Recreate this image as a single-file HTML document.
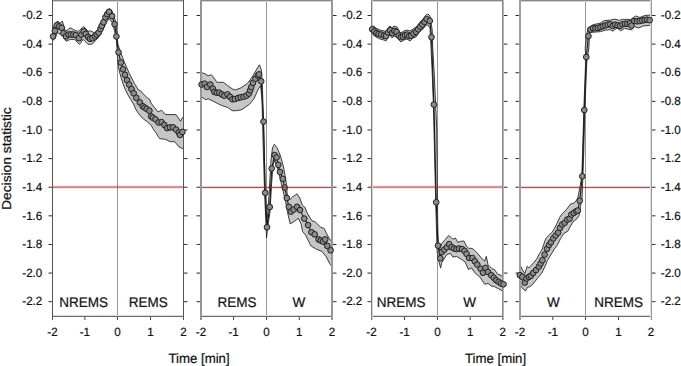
<!DOCTYPE html>
<html><head><meta charset="utf-8"><style>
html,body{margin:0;padding:0;background:#fff;width:681px;height:366px;overflow:hidden}
svg{display:block}
text{font-family:"Liberation Sans",sans-serif;fill:#111;stroke:#111;stroke-width:0.22px;text-rendering:geometricPrecision}
.tl{font-size:12px}
.cl{font-size:14px}
.at{font-size:13.5px}
.c{fill:#8a8a8a;stroke:#1e1e1e;stroke-width:1}
.bd{fill:#c6c6c6;stroke:#1e1e1e;stroke-width:0.85;stroke-linejoin:round}
</style></head><body>
<svg width="681" height="366" viewBox="0 0 681 366">
<rect width="681" height="366" fill="#fff"/>
<rect x="52" y="0" width="132" height="1" fill="#888"/>
<rect x="52" y="1" width="132" height="1" fill="#d2d2d2"/>
<rect x="52" y="315" width="132" height="1" fill="#dcdcdc"/>
<rect x="52" y="316" width="132" height="1" fill="#6a6a6a"/>
<rect x="52" y="0" width="1" height="320" fill="#555"/>
<rect x="183" y="0" width="1" height="320" fill="#555"/>
<path d="M48.5 15.50H52.0M184.0 15.50H187.5M48.5 44.12H52.0M184.0 44.12H187.5M48.5 72.74H52.0M184.0 72.74H187.5M48.5 101.36H52.0M184.0 101.36H187.5M48.5 129.98H52.0M184.0 129.98H187.5M48.5 158.60H52.0M184.0 158.60H187.5M48.5 187.22H52.0M184.0 187.22H187.5M48.5 215.84H52.0M184.0 215.84H187.5M48.5 244.46H52.0M184.0 244.46H187.5M48.5 273.08H52.0M184.0 273.08H187.5M48.5 301.70H52.0M184.0 301.70H187.5" stroke="#2a2a2a" stroke-width="1" fill="none"/>
<path d="M84.90 317V320M117.50 317V320M150.50 317V320" stroke="#444" stroke-width="1" fill="none"/>
<rect x="117" y="2" width="1" height="313" fill="#959595"/>
<clipPath id="c0"><rect x="53" y="1" width="130" height="314"/></clipPath>
<polygon class="bd" clip-path="url(#c0)" points="52.5,30.0 54.5,25.0 56.2,22.2 58.0,21.0 60.0,23.5 62.3,21.0 65.4,31.4 70.3,27.8 74.6,30.2 78.3,31.4 83.8,26.5 88.1,31.4 90.6,30.8 94.3,32.7 99.2,29.6 102.9,21.0 106.6,12.4 109.0,8.7 111.5,9.9 114.0,16.1 116.4,24.7 117.8,44.0 120.7,52.5 124.4,62.3 129.3,73.3 134.2,83.2 138.5,89.9 141.0,91.2 143.4,94.2 147.6,97.9 150.0,99.8 151.1,103.2 154.6,107.6 158.1,112.0 161.6,110.2 164.2,113.3 166.0,114.6 170.1,114.6 176.1,114.6 180.6,121.3 182.4,117.6 183.5,117.0 183.5,149.0 182.1,148.4 179.1,146.9 174.6,141.7 170.1,141.7 165.6,139.4 159.6,138.6 155.8,132.6 152.9,128.6 151.1,125.1 147.6,122.1 142.4,118.1 138.0,112.9 135.7,109.0 133.5,104.0 131.0,100.0 128.0,95.0 125.5,90.0 123.5,85.0 121.5,79.0 119.5,72.0 118.3,66.0 117.6,58.0 116.4,40.7 114.6,30.8 112.1,22.2 109.0,18.5 106.6,22.2 102.9,29.6 99.2,36.4 95.5,40.7 92.4,44.0 88.1,44.4 83.2,39.4 79.5,44.4 74.6,39.4 70.3,39.4 66.0,41.3 62.3,35.1 57.4,32.7 54.9,38.2 52.5,41.0"/>
<polyline points="53.1,36.4 54.9,30.8 56.8,25.3 59.2,26.5 61.7,27.8 63.5,33.3 66.0,36.4 68.5,34.5 70.9,34.5 73.4,34.5 75.8,35.1 78.9,38.2 81.4,34.5 83.8,31.4 85.7,33.9 88.1,37.0 90.0,38.8 92.4,38.2 94.9,36.4 96.7,34.5 98.6,32.7 100.4,29.0 101.7,25.9 103.5,22.2 105.4,17.3 107.2,14.2 109.0,11.8 112.1,16.1 114.6,24.1 116.4,36.4 118.5,52.4 120.9,62.5 123.0,69.3 125.0,74.8 127.0,80.1 129.2,84.6 131.5,89.0 133.7,93.3 136.3,97.8 139.8,102.4 142.8,106.3 144.6,107.6 146.7,108.9 149.4,110.7 151.1,116.4 152.9,117.7 155.5,119.4 158.6,122.5 161.6,122.1 164.4,125.0 167.1,128.1 170.1,127.4 173.1,127.4 176.1,129.6 178.8,132.6 179.9,134.9 182.4,131.9" fill="none" stroke="#1a1a1a" stroke-width="1.1"/>
<circle class="c" cx="53.1" cy="36.4" r="2.85"/>
<circle class="c" cx="54.9" cy="30.8" r="2.85"/>
<circle class="c" cx="56.8" cy="25.3" r="2.85"/>
<circle class="c" cx="59.2" cy="26.5" r="2.85"/>
<circle class="c" cx="61.7" cy="27.8" r="2.85"/>
<circle class="c" cx="63.5" cy="33.3" r="2.85"/>
<circle class="c" cx="66.0" cy="36.4" r="2.85"/>
<circle class="c" cx="68.5" cy="34.5" r="2.85"/>
<circle class="c" cx="70.9" cy="34.5" r="2.85"/>
<circle class="c" cx="73.4" cy="34.5" r="2.85"/>
<circle class="c" cx="75.8" cy="35.1" r="2.85"/>
<circle class="c" cx="78.9" cy="38.2" r="2.85"/>
<circle class="c" cx="81.4" cy="34.5" r="2.85"/>
<circle class="c" cx="83.8" cy="31.4" r="2.85"/>
<circle class="c" cx="85.7" cy="33.9" r="2.85"/>
<circle class="c" cx="88.1" cy="37.0" r="2.85"/>
<circle class="c" cx="90.0" cy="38.8" r="2.85"/>
<circle class="c" cx="92.4" cy="38.2" r="2.85"/>
<circle class="c" cx="94.9" cy="36.4" r="2.85"/>
<circle class="c" cx="96.7" cy="34.5" r="2.85"/>
<circle class="c" cx="98.6" cy="32.7" r="2.85"/>
<circle class="c" cx="100.4" cy="29.0" r="2.85"/>
<circle class="c" cx="101.7" cy="25.9" r="2.85"/>
<circle class="c" cx="103.5" cy="22.2" r="2.85"/>
<circle class="c" cx="105.4" cy="17.3" r="2.85"/>
<circle class="c" cx="107.2" cy="14.2" r="2.85"/>
<circle class="c" cx="109.0" cy="11.8" r="2.85"/>
<circle class="c" cx="112.1" cy="16.1" r="2.85"/>
<circle class="c" cx="114.6" cy="24.1" r="2.85"/>
<circle class="c" cx="116.4" cy="36.4" r="2.85"/>
<circle class="c" cx="118.5" cy="52.4" r="2.85"/>
<circle class="c" cx="120.9" cy="62.5" r="2.85"/>
<circle class="c" cx="123.0" cy="69.3" r="2.85"/>
<circle class="c" cx="125.0" cy="74.8" r="2.85"/>
<circle class="c" cx="127.0" cy="80.1" r="2.85"/>
<circle class="c" cx="129.2" cy="84.6" r="2.85"/>
<circle class="c" cx="131.5" cy="89.0" r="2.85"/>
<circle class="c" cx="133.7" cy="93.3" r="2.85"/>
<circle class="c" cx="136.3" cy="97.8" r="2.85"/>
<circle class="c" cx="139.8" cy="102.4" r="2.85"/>
<circle class="c" cx="142.8" cy="106.3" r="2.85"/>
<circle class="c" cx="144.6" cy="107.6" r="2.85"/>
<circle class="c" cx="146.7" cy="108.9" r="2.85"/>
<circle class="c" cx="149.4" cy="110.7" r="2.85"/>
<circle class="c" cx="151.1" cy="116.4" r="2.85"/>
<circle class="c" cx="152.9" cy="117.7" r="2.85"/>
<circle class="c" cx="155.5" cy="119.4" r="2.85"/>
<circle class="c" cx="158.6" cy="122.5" r="2.85"/>
<circle class="c" cx="161.6" cy="122.1" r="2.85"/>
<circle class="c" cx="164.4" cy="125.0" r="2.85"/>
<circle class="c" cx="167.1" cy="128.1" r="2.85"/>
<circle class="c" cx="170.1" cy="127.4" r="2.85"/>
<circle class="c" cx="173.1" cy="127.4" r="2.85"/>
<circle class="c" cx="176.1" cy="129.6" r="2.85"/>
<circle class="c" cx="178.8" cy="132.6" r="2.85"/>
<circle class="c" cx="179.9" cy="134.9" r="2.85"/>
<circle class="c" cx="182.4" cy="131.9" r="2.85"/>
<rect x="53" y="185" width="130" height="1" fill="#be1e23" fill-opacity="0.070"/>
<rect x="53" y="186" width="130" height="1" fill="#be1e23" fill-opacity="0.450"/>
<rect x="53" y="187" width="130" height="1" fill="#be1e23" fill-opacity="0.565"/>
<rect x="53" y="188" width="130" height="1" fill="#be1e23" fill-opacity="0.100"/>
<text class="tl" transform="translate(52.5,336.3) scale(0.967,1)" text-anchor="middle">-2</text>
<text class="tl" transform="translate(84.9,336.3) scale(0.967,1)" text-anchor="middle">-1</text>
<text class="tl" transform="translate(117.5,336.3) scale(0.967,1)" text-anchor="middle">0</text>
<text class="tl" transform="translate(150.5,336.3) scale(0.967,1)" text-anchor="middle">1</text>
<text class="tl" transform="translate(183.5,336.3) scale(0.967,1)" text-anchor="middle">2</text>
<text class="cl" transform="translate(83.7,307.4) scale(0.965,1)" text-anchor="middle">NREMS</text>
<text class="cl" transform="translate(148.2,307.4) scale(0.965,1)" text-anchor="middle">REMS</text>
<rect x="200" y="0" width="133" height="1" fill="#888"/>
<rect x="200" y="1" width="133" height="1" fill="#d2d2d2"/>
<rect x="200" y="315" width="133" height="1" fill="#dcdcdc"/>
<rect x="200" y="316" width="133" height="1" fill="#6a6a6a"/>
<rect x="200" y="0" width="1" height="320" fill="#959595"/>
<rect x="201" y="0" width="1" height="320" fill="#959595"/>
<rect x="331" y="0" width="1" height="320" fill="#969696"/>
<rect x="332" y="0" width="1" height="320" fill="#969696"/>
<path d="M196.5 15.50H200.0M333.0 15.50H336.5M196.5 44.12H200.0M333.0 44.12H336.5M196.5 72.74H200.0M333.0 72.74H336.5M196.5 101.36H200.0M333.0 101.36H336.5M196.5 129.98H200.0M333.0 129.98H336.5M196.5 158.60H200.0M333.0 158.60H336.5M196.5 187.22H200.0M333.0 187.22H336.5M196.5 215.84H200.0M333.0 215.84H336.5M196.5 244.46H200.0M333.0 244.46H336.5M196.5 273.08H200.0M333.0 273.08H336.5M196.5 301.70H200.0M333.0 301.70H336.5" stroke="#2a2a2a" stroke-width="1" fill="none"/>
<path d="M233.60 317V320M266.50 317V320M299.30 317V320" stroke="#444" stroke-width="1" fill="none"/>
<rect x="266" y="2" width="1" height="313" fill="#959595"/>
<clipPath id="c1"><rect x="202" y="1" width="129" height="314"/></clipPath>
<polygon class="bd" clip-path="url(#c1)" points="201.0,72.5 204.8,73.6 208.1,75.8 211.4,74.7 214.7,79.0 216.9,82.3 223.4,82.3 227.8,85.6 232.2,88.9 235.4,90.0 240.9,87.8 247.5,83.4 252.9,75.8 257.3,68.1 259.5,64.8 261.3,70.0 262.2,80.0 263.5,120.0 265.0,180.0 266.0,215.0 267.0,222.0 269.0,195.0 271.0,160.0 272.5,148.0 274.3,144.3 277.0,147.5 280.5,156.0 283.5,167.0 285.5,178.0 286.5,186.0 287.5,196.6 290.2,199.3 293.0,196.6 297.0,193.9 299.8,198.0 302.5,205.5 305.2,207.5 306.6,212.0 312.0,220.8 315.3,221.9 320.8,227.3 324.1,228.4 327.3,235.0 330.6,240.5 332.1,241.6 332.1,266.7 329.5,263.4 326.3,256.9 321.9,251.4 316.4,249.2 310.9,245.9 305.5,235.0 302.5,231.4 301.1,223.9 298.4,218.4 293.6,221.8 290.2,223.9 287.5,212.3 285.5,201.4 281.0,182.0 278.0,170.0 275.0,160.0 273.0,165.0 271.5,185.0 270.0,212.0 268.0,225.0 266.5,238.0 264.5,190.0 263.0,140.0 262.0,100.0 260.6,85.6 258.4,88.9 254.0,98.7 249.6,104.2 242.0,109.6 236.5,110.7 232.2,110.7 227.8,107.5 221.2,105.3 214.7,102.0 208.1,98.7 205.9,99.8 201.0,96.5"/>
<polyline points="201.6,84.5 204.6,83.7 207.0,87.0 210.3,84.5 212.8,88.6 214.4,91.9 216.9,92.7 219.3,92.7 221.8,94.4 224.3,95.7 227.5,94.4 230.0,96.8 232.5,99.3 234.9,99.0 238.2,98.0 240.7,97.3 243.6,96.8 246.4,95.7 248.9,93.6 250.2,90.3 251.3,87.0 253.0,82.9 255.4,78.8 257.9,75.5 259.0,74.4 261.2,81.3 263.5,121.6 265.2,192.8 267.0,227.2 269.7,207.0 271.7,168.5 274.6,155.0 276.6,157.4 278.3,164.8 280.0,172.0 282.8,178.8 284.7,187.5 286.8,198.0 288.9,206.8 290.9,211.6 293.6,209.6 297.0,206.8 300.0,210.0 304.3,218.6 308.1,225.1 311.4,232.2 314.7,234.4 318.6,239.4 320.8,240.5 323.0,241.6 325.2,239.4 327.3,245.9 330.6,250.3" fill="none" stroke="#1a1a1a" stroke-width="1.1"/>
<circle class="c" cx="201.6" cy="84.5" r="2.85"/>
<circle class="c" cx="204.6" cy="83.7" r="2.85"/>
<circle class="c" cx="207.0" cy="87.0" r="2.85"/>
<circle class="c" cx="210.3" cy="84.5" r="2.85"/>
<circle class="c" cx="212.8" cy="88.6" r="2.85"/>
<circle class="c" cx="214.4" cy="91.9" r="2.85"/>
<circle class="c" cx="216.9" cy="92.7" r="2.85"/>
<circle class="c" cx="219.3" cy="92.7" r="2.85"/>
<circle class="c" cx="221.8" cy="94.4" r="2.85"/>
<circle class="c" cx="224.3" cy="95.7" r="2.85"/>
<circle class="c" cx="227.5" cy="94.4" r="2.85"/>
<circle class="c" cx="230.0" cy="96.8" r="2.85"/>
<circle class="c" cx="232.5" cy="99.3" r="2.85"/>
<circle class="c" cx="234.9" cy="99.0" r="2.85"/>
<circle class="c" cx="238.2" cy="98.0" r="2.85"/>
<circle class="c" cx="240.7" cy="97.3" r="2.85"/>
<circle class="c" cx="243.6" cy="96.8" r="2.85"/>
<circle class="c" cx="246.4" cy="95.7" r="2.85"/>
<circle class="c" cx="248.9" cy="93.6" r="2.85"/>
<circle class="c" cx="250.2" cy="90.3" r="2.85"/>
<circle class="c" cx="251.3" cy="87.0" r="2.85"/>
<circle class="c" cx="253.0" cy="82.9" r="2.85"/>
<circle class="c" cx="255.4" cy="78.8" r="2.85"/>
<circle class="c" cx="257.9" cy="75.5" r="2.85"/>
<circle class="c" cx="259.0" cy="74.4" r="2.85"/>
<circle class="c" cx="261.2" cy="81.3" r="2.85"/>
<circle class="c" cx="263.5" cy="121.6" r="2.85"/>
<circle class="c" cx="265.2" cy="192.8" r="2.85"/>
<circle class="c" cx="267.0" cy="227.2" r="2.85"/>
<circle class="c" cx="269.7" cy="207.0" r="2.85"/>
<circle class="c" cx="271.7" cy="168.5" r="2.85"/>
<circle class="c" cx="274.6" cy="155.0" r="2.85"/>
<circle class="c" cx="276.6" cy="157.4" r="2.85"/>
<circle class="c" cx="278.3" cy="164.8" r="2.85"/>
<circle class="c" cx="280.0" cy="172.0" r="2.85"/>
<circle class="c" cx="282.8" cy="178.8" r="2.85"/>
<circle class="c" cx="284.7" cy="187.5" r="2.85"/>
<circle class="c" cx="286.8" cy="198.0" r="2.85"/>
<circle class="c" cx="288.9" cy="206.8" r="2.85"/>
<circle class="c" cx="290.9" cy="211.6" r="2.85"/>
<circle class="c" cx="293.6" cy="209.6" r="2.85"/>
<circle class="c" cx="297.0" cy="206.8" r="2.85"/>
<circle class="c" cx="300.0" cy="210.0" r="2.85"/>
<circle class="c" cx="304.3" cy="218.6" r="2.85"/>
<circle class="c" cx="308.1" cy="225.1" r="2.85"/>
<circle class="c" cx="311.4" cy="232.2" r="2.85"/>
<circle class="c" cx="314.7" cy="234.4" r="2.85"/>
<circle class="c" cx="318.6" cy="239.4" r="2.85"/>
<circle class="c" cx="320.8" cy="240.5" r="2.85"/>
<circle class="c" cx="323.0" cy="241.6" r="2.85"/>
<circle class="c" cx="325.2" cy="239.4" r="2.85"/>
<circle class="c" cx="327.3" cy="245.9" r="2.85"/>
<circle class="c" cx="330.6" cy="250.3" r="2.85"/>
<rect x="202" y="186" width="129" height="1" fill="#961e23" fill-opacity="0.200"/>
<rect x="202" y="187" width="129" height="1" fill="#961e23" fill-opacity="0.780"/>
<rect x="202" y="188" width="129" height="1" fill="#961e23" fill-opacity="0.110"/>
<text class="tl" transform="translate(201.0,336.3) scale(0.967,1)" text-anchor="middle">-2</text>
<text class="tl" transform="translate(233.6,336.3) scale(0.967,1)" text-anchor="middle">-1</text>
<text class="tl" transform="translate(266.5,336.3) scale(0.967,1)" text-anchor="middle">0</text>
<text class="tl" transform="translate(299.3,336.3) scale(0.967,1)" text-anchor="middle">1</text>
<text class="tl" transform="translate(332.0,336.3) scale(0.967,1)" text-anchor="middle">2</text>
<text class="cl" transform="translate(237.0,307.4) scale(0.965,1)" text-anchor="middle">REMS</text>
<text class="cl" transform="translate(298.9,307.4) scale(0.965,1)" text-anchor="middle">W</text>
<rect x="371" y="0" width="133" height="1" fill="#888"/>
<rect x="371" y="1" width="133" height="1" fill="#d2d2d2"/>
<rect x="371" y="315" width="133" height="1" fill="#dcdcdc"/>
<rect x="371" y="316" width="133" height="1" fill="#6a6a6a"/>
<rect x="371" y="0" width="1" height="320" fill="#808080"/>
<rect x="372" y="0" width="1" height="320" fill="#d0d0d0"/>
<rect x="502" y="0" width="1" height="320" fill="#8a8a8a"/>
<rect x="503" y="0" width="1" height="320" fill="#b5b5b5"/>
<path d="M367.5 15.50H371.0M504.0 15.50H507.5M367.5 44.12H371.0M504.0 44.12H507.5M367.5 72.74H371.0M504.0 72.74H507.5M367.5 101.36H371.0M504.0 101.36H507.5M367.5 129.98H371.0M504.0 129.98H507.5M367.5 158.60H371.0M504.0 158.60H507.5M367.5 187.22H371.0M504.0 187.22H507.5M367.5 215.84H371.0M504.0 215.84H507.5M367.5 244.46H371.0M504.0 244.46H507.5M367.5 273.08H371.0M504.0 273.08H507.5M367.5 301.70H371.0M504.0 301.70H507.5" stroke="#2a2a2a" stroke-width="1" fill="none"/>
<path d="M404.60 317V320M437.50 317V320M470.20 317V320" stroke="#444" stroke-width="1" fill="none"/>
<rect x="437" y="2" width="1" height="313" fill="#959595"/>
<clipPath id="c2"><rect x="373" y="1" width="129" height="314"/></clipPath>
<polygon class="bd" clip-path="url(#c2)" points="372.0,25.0 376.0,28.0 380.0,30.0 384.0,31.0 386.0,32.0 388.0,28.0 390.0,26.0 392.0,28.0 394.0,26.0 397.0,27.0 399.0,31.0 401.0,33.0 404.0,31.0 407.0,30.0 410.0,31.0 413.0,29.0 416.0,27.0 418.0,25.0 420.0,22.0 423.0,19.0 426.0,15.0 428.0,14.0 430.0,16.0 432.2,30.0 432.6,45.0 434.3,75.0 435.6,104.0 436.8,130.0 437.2,160.0 437.4,200.0 437.9,232.0 438.4,244.0 439.4,249.7 441.8,243.5 445.5,239.2 448.6,235.5 451.1,237.4 452.9,239.2 455.4,238.0 457.8,242.3 461.5,241.1 464.0,241.1 466.4,246.0 468.9,248.5 470.7,248.2 473.2,249.0 477.3,253.1 481.4,258.0 484.7,261.3 486.3,256.4 488.0,264.6 492.0,268.7 494.5,269.5 497.8,274.4 501.0,275.2 503.0,277.5 503.0,292.0 501.0,290.0 497.8,288.4 494.5,286.7 491.2,285.9 488.0,283.4 484.7,284.3 479.8,276.9 474.8,272.8 471.6,267.9 468.3,269.4 465.2,262.0 461.5,259.5 456.6,256.4 452.9,257.1 450.5,253.4 446.8,254.6 441.8,262.6 440.6,268.1 438.8,260.8 437.2,252.0 436.9,245.0 435.7,202.0 434.5,150.0 433.4,104.6 432.3,75.0 430.9,45.0 430.0,28.0 428.0,25.0 426.0,25.0 423.0,29.0 420.0,31.0 418.0,34.0 416.0,37.0 413.0,38.0 410.0,41.0 407.0,39.0 404.0,40.0 401.0,42.0 399.0,40.0 397.0,37.0 394.0,36.0 392.0,38.0 390.0,35.0 388.0,37.0 386.0,41.0 384.0,40.0 380.0,39.0 376.0,37.0 372.0,34.0"/>
<polyline points="372.2,29.3 374.3,31.4 376.5,33.0 378.6,34.0 381.2,34.6 383.9,35.6 386.0,36.1 388.1,32.4 390.2,30.3 392.3,33.0 394.4,30.9 396.5,31.9 398.7,35.6 400.8,37.2 402.9,36.7 405.0,35.1 407.1,34.6 409.2,36.1 411.3,35.6 413.5,33.5 416.1,31.9 418.2,29.3 420.3,26.6 422.4,24.5 424.6,21.9 426.7,19.2 429.8,20.8 431.5,37.2 433.9,104.6 436.2,202.3 438.0,245.6 440.3,258.3 441.8,252.1 444.3,249.7 446.8,247.2 449.2,244.1 451.7,247.2 454.1,248.5 456.6,249.1 459.1,248.5 462.1,249.1 464.6,250.9 466.6,253.9 469.1,258.0 472.4,258.0 474.8,261.3 477.3,264.6 480.6,268.7 483.0,272.8 485.5,267.9 488.0,272.0 491.2,275.2 493.7,277.7 496.1,280.2 498.6,281.8 501.0,283.4 503.5,284.3" fill="none" stroke="#1a1a1a" stroke-width="1.1"/>
<circle class="c" cx="372.2" cy="29.3" r="2.85"/>
<circle class="c" cx="374.3" cy="31.4" r="2.85"/>
<circle class="c" cx="376.5" cy="33.0" r="2.85"/>
<circle class="c" cx="378.6" cy="34.0" r="2.85"/>
<circle class="c" cx="381.2" cy="34.6" r="2.85"/>
<circle class="c" cx="383.9" cy="35.6" r="2.85"/>
<circle class="c" cx="386.0" cy="36.1" r="2.85"/>
<circle class="c" cx="388.1" cy="32.4" r="2.85"/>
<circle class="c" cx="390.2" cy="30.3" r="2.85"/>
<circle class="c" cx="392.3" cy="33.0" r="2.85"/>
<circle class="c" cx="394.4" cy="30.9" r="2.85"/>
<circle class="c" cx="396.5" cy="31.9" r="2.85"/>
<circle class="c" cx="398.7" cy="35.6" r="2.85"/>
<circle class="c" cx="400.8" cy="37.2" r="2.85"/>
<circle class="c" cx="402.9" cy="36.7" r="2.85"/>
<circle class="c" cx="405.0" cy="35.1" r="2.85"/>
<circle class="c" cx="407.1" cy="34.6" r="2.85"/>
<circle class="c" cx="409.2" cy="36.1" r="2.85"/>
<circle class="c" cx="411.3" cy="35.6" r="2.85"/>
<circle class="c" cx="413.5" cy="33.5" r="2.85"/>
<circle class="c" cx="416.1" cy="31.9" r="2.85"/>
<circle class="c" cx="418.2" cy="29.3" r="2.85"/>
<circle class="c" cx="420.3" cy="26.6" r="2.85"/>
<circle class="c" cx="422.4" cy="24.5" r="2.85"/>
<circle class="c" cx="424.6" cy="21.9" r="2.85"/>
<circle class="c" cx="426.7" cy="19.2" r="2.85"/>
<circle class="c" cx="429.8" cy="20.8" r="2.85"/>
<circle class="c" cx="431.5" cy="37.2" r="2.85"/>
<circle class="c" cx="433.9" cy="104.6" r="2.85"/>
<circle class="c" cx="436.2" cy="202.3" r="2.85"/>
<circle class="c" cx="438.0" cy="245.6" r="2.85"/>
<circle class="c" cx="440.3" cy="258.3" r="2.85"/>
<circle class="c" cx="441.8" cy="252.1" r="2.85"/>
<circle class="c" cx="444.3" cy="249.7" r="2.85"/>
<circle class="c" cx="446.8" cy="247.2" r="2.85"/>
<circle class="c" cx="449.2" cy="244.1" r="2.85"/>
<circle class="c" cx="451.7" cy="247.2" r="2.85"/>
<circle class="c" cx="454.1" cy="248.5" r="2.85"/>
<circle class="c" cx="456.6" cy="249.1" r="2.85"/>
<circle class="c" cx="459.1" cy="248.5" r="2.85"/>
<circle class="c" cx="462.1" cy="249.1" r="2.85"/>
<circle class="c" cx="464.6" cy="250.9" r="2.85"/>
<circle class="c" cx="466.6" cy="253.9" r="2.85"/>
<circle class="c" cx="469.1" cy="258.0" r="2.85"/>
<circle class="c" cx="472.4" cy="258.0" r="2.85"/>
<circle class="c" cx="474.8" cy="261.3" r="2.85"/>
<circle class="c" cx="477.3" cy="264.6" r="2.85"/>
<circle class="c" cx="480.6" cy="268.7" r="2.85"/>
<circle class="c" cx="483.0" cy="272.8" r="2.85"/>
<circle class="c" cx="485.5" cy="267.9" r="2.85"/>
<circle class="c" cx="488.0" cy="272.0" r="2.85"/>
<circle class="c" cx="491.2" cy="275.2" r="2.85"/>
<circle class="c" cx="493.7" cy="277.7" r="2.85"/>
<circle class="c" cx="496.1" cy="280.2" r="2.85"/>
<circle class="c" cx="498.6" cy="281.8" r="2.85"/>
<circle class="c" cx="501.0" cy="283.4" r="2.85"/>
<circle class="c" cx="503.5" cy="284.3" r="2.85"/>
<rect x="373" y="185" width="129" height="1" fill="#be1e23" fill-opacity="0.070"/>
<rect x="373" y="186" width="129" height="1" fill="#be1e23" fill-opacity="0.450"/>
<rect x="373" y="187" width="129" height="1" fill="#be1e23" fill-opacity="0.565"/>
<rect x="373" y="188" width="129" height="1" fill="#be1e23" fill-opacity="0.100"/>
<text class="tl" transform="translate(371.5,336.3) scale(0.967,1)" text-anchor="middle">-2</text>
<text class="tl" transform="translate(404.6,336.3) scale(0.967,1)" text-anchor="middle">-1</text>
<text class="tl" transform="translate(437.5,336.3) scale(0.967,1)" text-anchor="middle">0</text>
<text class="tl" transform="translate(470.2,336.3) scale(0.967,1)" text-anchor="middle">1</text>
<text class="tl" transform="translate(502.8,336.3) scale(0.967,1)" text-anchor="middle">2</text>
<text class="cl" transform="translate(401.1,307.4) scale(0.965,1)" text-anchor="middle">NREMS</text>
<text class="cl" transform="translate(469.6,307.4) scale(0.965,1)" text-anchor="middle">W</text>
<rect x="519" y="0" width="133" height="1" fill="#888"/>
<rect x="519" y="1" width="133" height="1" fill="#d2d2d2"/>
<rect x="519" y="315" width="133" height="1" fill="#dcdcdc"/>
<rect x="519" y="316" width="133" height="1" fill="#6a6a6a"/>
<rect x="519" y="0" width="1" height="320" fill="#a0a0a0"/>
<rect x="520" y="0" width="1" height="320" fill="#a0a0a0"/>
<rect x="650" y="0" width="1" height="320" fill="#dedede"/>
<rect x="651" y="0" width="1" height="320" fill="#9a9a9a"/>
<path d="M515.5 15.50H519.0M652.0 15.50H655.5M515.5 44.12H519.0M652.0 44.12H655.5M515.5 72.74H519.0M652.0 72.74H655.5M515.5 101.36H519.0M652.0 101.36H655.5M515.5 129.98H519.0M652.0 129.98H655.5M515.5 158.60H519.0M652.0 158.60H655.5M515.5 187.22H519.0M652.0 187.22H655.5M515.5 215.84H519.0M652.0 215.84H655.5M515.5 244.46H519.0M652.0 244.46H655.5M515.5 273.08H519.0M652.0 273.08H655.5M515.5 301.70H519.0M652.0 301.70H655.5" stroke="#2a2a2a" stroke-width="1" fill="none"/>
<path d="M552.80 317V320M585.50 317V320M618.50 317V320" stroke="#444" stroke-width="1" fill="none"/>
<rect x="585" y="2" width="1" height="313" fill="#959595"/>
<clipPath id="c3"><rect x="521" y="1" width="129" height="314"/></clipPath>
<polygon class="bd" clip-path="url(#c3)" points="519.9,267.0 520.7,266.0 522.5,270.0 524.8,273.6 527.3,266.2 528.9,267.9 532.6,263.8 536.6,259.2 539.5,253.4 541.8,250.0 543.5,245.0 545.6,239.0 548.5,235.5 552.3,232.2 556.2,225.0 559.8,217.1 562.2,213.8 566.3,209.7 570.5,204.0 573.7,203.1 576.2,200.7 577.8,198.2 578.7,193.3 580.3,185.0 581.8,176.0 582.7,150.0 583.8,110.0 585.8,57.0 585.2,48.0 586.5,36.0 588.0,28.0 590.1,26.7 593.1,24.7 600.2,23.2 604.2,20.6 610.3,20.1 614.8,19.1 618.8,20.3 622.7,19.4 630.8,19.4 635.6,16.0 639.9,17.4 644.7,15.5 651.0,15.0 651.0,25.1 642.8,26.1 638.9,28.0 634.1,26.5 631.7,29.9 624.6,28.4 620.7,30.8 617.0,28.0 614.8,29.7 612.8,31.2 610.3,29.7 605.3,30.2 600.2,31.7 593.1,32.2 589.1,32.7 589.2,40.0 588.9,48.0 586.8,62.0 584.8,110.0 583.8,150.0 582.8,180.0 581.9,199.9 580.5,206.4 579.5,214.6 577.0,218.7 572.9,222.0 570.5,226.1 568.0,231.0 563.9,233.5 560.6,238.5 557.1,245.6 554.3,248.9 553.8,250.0 551.0,254.6 547.5,260.3 545.2,266.1 541.8,273.0 537.2,278.7 532.6,284.4 529.8,286.7 527.3,287.5 525.7,290.8 523.2,289.2 519.9,284.3"/>
<polyline points="519.9,275.2 522.4,276.9 524.8,282.6 526.5,278.5 528.9,276.9 530.8,275.8 533.2,273.0 536.0,270.1 538.9,266.6 540.6,263.5 542.4,260.3 544.6,254.6 547.0,248.8 549.0,245.0 551.0,242.2 553.3,238.4 555.7,235.5 558.1,232.6 560.0,227.9 562.2,224.5 564.7,222.8 567.2,219.6 569.6,218.7 571.3,214.6 573.7,213.0 576.2,211.3 577.8,210.5 579.7,200.7 582.3,176.3 584.3,110.0 586.3,57.0 588.4,36.1 590.5,29.5 593.0,28.2 595.4,28.2 597.9,27.9 600.4,27.1 602.8,26.3 605.3,25.4 607.7,24.6 610.2,24.3 612.7,25.9 615.1,24.6 617.6,25.4 620.0,25.9 622.5,24.3 625.0,23.8 627.4,23.8 629.9,23.3 631.5,25.6 634.3,21.0 637.0,21.3 639.7,21.0 642.2,20.5 644.7,20.0 647.1,19.7 649.6,20.2" fill="none" stroke="#1a1a1a" stroke-width="1.1"/>
<circle class="c" cx="519.9" cy="275.2" r="2.85"/>
<circle class="c" cx="522.4" cy="276.9" r="2.85"/>
<circle class="c" cx="524.8" cy="282.6" r="2.85"/>
<circle class="c" cx="526.5" cy="278.5" r="2.85"/>
<circle class="c" cx="528.9" cy="276.9" r="2.85"/>
<circle class="c" cx="530.8" cy="275.8" r="2.85"/>
<circle class="c" cx="533.2" cy="273.0" r="2.85"/>
<circle class="c" cx="536.0" cy="270.1" r="2.85"/>
<circle class="c" cx="538.9" cy="266.6" r="2.85"/>
<circle class="c" cx="540.6" cy="263.5" r="2.85"/>
<circle class="c" cx="542.4" cy="260.3" r="2.85"/>
<circle class="c" cx="544.6" cy="254.6" r="2.85"/>
<circle class="c" cx="547.0" cy="248.8" r="2.85"/>
<circle class="c" cx="549.0" cy="245.0" r="2.85"/>
<circle class="c" cx="551.0" cy="242.2" r="2.85"/>
<circle class="c" cx="553.3" cy="238.4" r="2.85"/>
<circle class="c" cx="555.7" cy="235.5" r="2.85"/>
<circle class="c" cx="558.1" cy="232.6" r="2.85"/>
<circle class="c" cx="560.0" cy="227.9" r="2.85"/>
<circle class="c" cx="562.2" cy="224.5" r="2.85"/>
<circle class="c" cx="564.7" cy="222.8" r="2.85"/>
<circle class="c" cx="567.2" cy="219.6" r="2.85"/>
<circle class="c" cx="569.6" cy="218.7" r="2.85"/>
<circle class="c" cx="571.3" cy="214.6" r="2.85"/>
<circle class="c" cx="573.7" cy="213.0" r="2.85"/>
<circle class="c" cx="576.2" cy="211.3" r="2.85"/>
<circle class="c" cx="577.8" cy="210.5" r="2.85"/>
<circle class="c" cx="579.7" cy="200.7" r="2.85"/>
<circle class="c" cx="582.3" cy="176.3" r="2.85"/>
<circle class="c" cx="584.3" cy="110.0" r="2.85"/>
<circle class="c" cx="586.3" cy="57.0" r="2.85"/>
<circle class="c" cx="588.4" cy="36.1" r="2.85"/>
<circle class="c" cx="590.5" cy="29.5" r="2.85"/>
<circle class="c" cx="593.0" cy="28.2" r="2.85"/>
<circle class="c" cx="595.4" cy="28.2" r="2.85"/>
<circle class="c" cx="597.9" cy="27.9" r="2.85"/>
<circle class="c" cx="600.4" cy="27.1" r="2.85"/>
<circle class="c" cx="602.8" cy="26.3" r="2.85"/>
<circle class="c" cx="605.3" cy="25.4" r="2.85"/>
<circle class="c" cx="607.7" cy="24.6" r="2.85"/>
<circle class="c" cx="610.2" cy="24.3" r="2.85"/>
<circle class="c" cx="612.7" cy="25.9" r="2.85"/>
<circle class="c" cx="615.1" cy="24.6" r="2.85"/>
<circle class="c" cx="617.6" cy="25.4" r="2.85"/>
<circle class="c" cx="620.0" cy="25.9" r="2.85"/>
<circle class="c" cx="622.5" cy="24.3" r="2.85"/>
<circle class="c" cx="625.0" cy="23.8" r="2.85"/>
<circle class="c" cx="627.4" cy="23.8" r="2.85"/>
<circle class="c" cx="629.9" cy="23.3" r="2.85"/>
<circle class="c" cx="631.5" cy="25.6" r="2.85"/>
<circle class="c" cx="634.3" cy="21.0" r="2.85"/>
<circle class="c" cx="637.0" cy="21.3" r="2.85"/>
<circle class="c" cx="639.7" cy="21.0" r="2.85"/>
<circle class="c" cx="642.2" cy="20.5" r="2.85"/>
<circle class="c" cx="644.7" cy="20.0" r="2.85"/>
<circle class="c" cx="647.1" cy="19.7" r="2.85"/>
<circle class="c" cx="649.6" cy="20.2" r="2.85"/>
<rect x="521" y="186" width="129" height="1" fill="#961e23" fill-opacity="0.200"/>
<rect x="521" y="187" width="129" height="1" fill="#961e23" fill-opacity="0.780"/>
<rect x="521" y="188" width="129" height="1" fill="#961e23" fill-opacity="0.110"/>
<text class="tl" transform="translate(520.0,336.3) scale(0.967,1)" text-anchor="middle">-2</text>
<text class="tl" transform="translate(552.8,336.3) scale(0.967,1)" text-anchor="middle">-1</text>
<text class="tl" transform="translate(585.5,336.3) scale(0.967,1)" text-anchor="middle">0</text>
<text class="tl" transform="translate(618.5,336.3) scale(0.967,1)" text-anchor="middle">1</text>
<text class="tl" transform="translate(651.0,336.3) scale(0.967,1)" text-anchor="middle">2</text>
<text class="cl" transform="translate(553.5,307.4) scale(0.965,1)" text-anchor="middle">W</text>
<text class="cl" transform="translate(618.7,307.4) scale(0.965,1)" text-anchor="middle">NREMS</text>
<text class="tl" transform="translate(42.3,19.2) scale(0.967,1)" text-anchor="end">-0.2</text>
<text class="tl" transform="translate(362.3,19.2) scale(0.967,1)" text-anchor="end">-0.2</text>
<text class="tl" transform="translate(660.8,19.2) scale(0.967,1)">-0.2</text>
<text class="tl" transform="translate(42.3,47.8) scale(0.967,1)" text-anchor="end">-0.4</text>
<text class="tl" transform="translate(362.3,47.8) scale(0.967,1)" text-anchor="end">-0.4</text>
<text class="tl" transform="translate(660.8,47.8) scale(0.967,1)">-0.4</text>
<text class="tl" transform="translate(42.3,76.4) scale(0.967,1)" text-anchor="end">-0.6</text>
<text class="tl" transform="translate(362.3,76.4) scale(0.967,1)" text-anchor="end">-0.6</text>
<text class="tl" transform="translate(660.8,76.4) scale(0.967,1)">-0.6</text>
<text class="tl" transform="translate(42.3,105.1) scale(0.967,1)" text-anchor="end">-0.8</text>
<text class="tl" transform="translate(362.3,105.1) scale(0.967,1)" text-anchor="end">-0.8</text>
<text class="tl" transform="translate(660.8,105.1) scale(0.967,1)">-0.8</text>
<text class="tl" transform="translate(42.3,133.7) scale(0.967,1)" text-anchor="end">-1.0</text>
<text class="tl" transform="translate(362.3,133.7) scale(0.967,1)" text-anchor="end">-1.0</text>
<text class="tl" transform="translate(660.8,133.7) scale(0.967,1)">-1.0</text>
<text class="tl" transform="translate(42.3,162.3) scale(0.967,1)" text-anchor="end">-1.2</text>
<text class="tl" transform="translate(362.3,162.3) scale(0.967,1)" text-anchor="end">-1.2</text>
<text class="tl" transform="translate(660.8,162.3) scale(0.967,1)">-1.2</text>
<text class="tl" transform="translate(42.3,190.9) scale(0.967,1)" text-anchor="end">-1.4</text>
<text class="tl" transform="translate(362.3,190.9) scale(0.967,1)" text-anchor="end">-1.4</text>
<text class="tl" transform="translate(660.8,190.9) scale(0.967,1)">-1.4</text>
<text class="tl" transform="translate(42.3,219.5) scale(0.967,1)" text-anchor="end">-1.6</text>
<text class="tl" transform="translate(362.3,219.5) scale(0.967,1)" text-anchor="end">-1.6</text>
<text class="tl" transform="translate(660.8,219.5) scale(0.967,1)">-1.6</text>
<text class="tl" transform="translate(42.3,248.2) scale(0.967,1)" text-anchor="end">-1.8</text>
<text class="tl" transform="translate(362.3,248.2) scale(0.967,1)" text-anchor="end">-1.8</text>
<text class="tl" transform="translate(660.8,248.2) scale(0.967,1)">-1.8</text>
<text class="tl" transform="translate(42.3,276.8) scale(0.967,1)" text-anchor="end">-2.0</text>
<text class="tl" transform="translate(362.3,276.8) scale(0.967,1)" text-anchor="end">-2.0</text>
<text class="tl" transform="translate(660.8,276.8) scale(0.967,1)">-2.0</text>
<text class="tl" transform="translate(42.3,305.4) scale(0.967,1)" text-anchor="end">-2.2</text>
<text class="tl" transform="translate(362.3,305.4) scale(0.967,1)" text-anchor="end">-2.2</text>
<text class="tl" transform="translate(660.8,305.4) scale(0.967,1)">-2.2</text>
<text style="font-size:13px" transform="translate(10.6,158.6) rotate(-90) scale(1.06,1)" text-anchor="middle">Decision statistic</text>
<text class="at" transform="translate(199.0,362.7) scale(0.98,1)" text-anchor="middle">Time [min]</text>
<text class="at" transform="translate(495.5,362.7) scale(0.98,1)" text-anchor="middle">Time [min]</text>
</svg></body></html>
